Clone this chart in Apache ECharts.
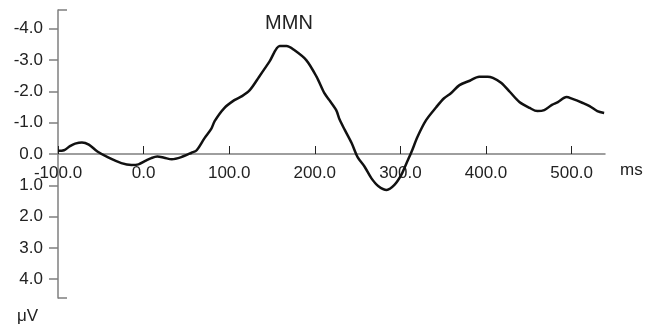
<!DOCTYPE html>
<html>
<head>
<meta charset="utf-8">
<script src="https://cdn.jsdelivr.net/npm/echarts@6/dist/echarts.min.js"></script>
<style>
html, body { margin: 0; padding: 0; background: #fff; }
#main { width: 661px; height: 330px; }
</style>
</head>
<body>
<div id="main"></div>
<script>
// MMN difference wave, time in ms, amplitude in µV (negative up)
var times = [-100, -93, -86, -80, -72, -64, -54, -42, -26, -14, -6, 2, 9, 16, 24, 33, 44, 56, 62, 71,
    79, 83, 94, 106, 115, 124, 135, 147, 159, 167, 176, 190, 202, 211, 217, 225, 229, 235, 243, 250, 258,
    266, 274, 284, 293, 301, 307, 313, 320, 330, 342, 351, 359, 369, 381, 392, 402, 408, 418, 428, 439,
    451, 460, 468, 477, 484, 494, 501, 513, 521, 530, 538];
var amps = [-0.1, -0.12, -0.25, -0.33, -0.37, -0.3, -0.08, 0.1, 0.29, 0.35, 0.33, 0.22, 0.13, 0.08, 0.12, 0.17, 0.1, -0.04, -0.12, -0.5,
    -0.8, -1.05, -1.46, -1.72, -1.85, -2.04, -2.47, -2.95, -3.45, -3.45, -3.32, -3.0, -2.47, -1.95, -1.72, -1.4, -1.1, -0.77, -0.35, 0.1, 0.4,
    0.77, 1.02, 1.15, 0.99, 0.67, 0.3, -0.07, -0.55, -1.08, -1.5, -1.78, -1.94, -2.2, -2.34, -2.47, -2.47, -2.43, -2.27, -1.98, -1.66,
    -1.47, -1.37, -1.4, -1.57, -1.66, -1.82, -1.76, -1.63, -1.53, -1.37, -1.31];
var xTicks = [-100, 0, 100, 200, 300, 400, 500];
var yTicks = [-4, -3, -2, -1, 0, 1, 2, 3, 4];
var yEnds = [-4.6, 4.6];

var font = 'Liberation Sans, Arial, Helvetica, sans-serif';
var axisGray = '#7f7f7f';

var seriesData = [];
for (var i = 0; i < times.length; i++) {
    seriesData.push([times[i], amps[i]]);
}

var chart = echarts.init(document.getElementById('main'));

var option = {
    animation: false,
    title: {
        text: 'MMN',
        left: 284,
        top: 8,
        textAlign: 'center',
        textStyle: { fontFamily: font, fontSize: 20, fontWeight: 'normal', color: '#222' }
    },
    grid: { left: 58, right: 56, top: 10, bottom: 32 },
    xAxis: {
        type: 'value',
        min: -100,
        max: 539,
        position: 'bottom',
        offset: -144,   // sits on the 0 µV line
        axisLine: { onZero: false, lineStyle: { color: axisGray, width: 1.5 } },
        axisTick: { show: true, inside: true, length: 8, customValues: xTicks, lineStyle: { color: '#222', width: 1 } },
        axisLabel: {
            customValues: xTicks,
            margin: 11,
            fontFamily: font, fontSize: 17, color: '#222',
            formatter: function (v) { return v.toFixed(1); }
        },
        splitLine: { show: false }
    },
    yAxis: [{
        type: 'value',
        inverse: true,
        min: -4.6,
        max: 4.6,
        axisLine: { show: true, onZero: false, lineStyle: { color: axisGray, width: 1.5 } },
        axisTick: { show: true, length: 9, customValues: yTicks, lineStyle: { color: axisGray, width: 1.5 } },
        axisLabel: {
            customValues: yTicks,
            margin: 15,
            fontFamily: font, fontSize: 17, color: '#222',
            formatter: function (v) { return v.toFixed(1); }
        },
        splitLine: { show: false }
    }, {
        type: 'value',
        position: 'left',
        inverse: true,
        min: -4.6,
        max: 4.6,
        axisLine: { show: false, onZero: false },
        axisTick: { show: true, inside: true, length: 9, customValues: yEnds, lineStyle: { color: axisGray, width: 1.5 } },
        axisLabel: { show: false },
        splitLine: { show: false }
    }],
    graphic: [{
        type: 'text', left: 620, top: 162,
        style: { text: 'ms', font: '17px ' + font, fill: '#222' }
    }, {
        type: 'text', left: 17, top: 308,
        style: { text: 'μV', font: '17px ' + font, fill: '#222' }
    }],
    series: [{
        type: 'line',
        data: seriesData,
        smooth: 0.3,
        showSymbol: false,
        lineStyle: { color: '#111', width: 2.5 }
    }]
};

chart.setOption(option);
</script>
</body>
</html>
